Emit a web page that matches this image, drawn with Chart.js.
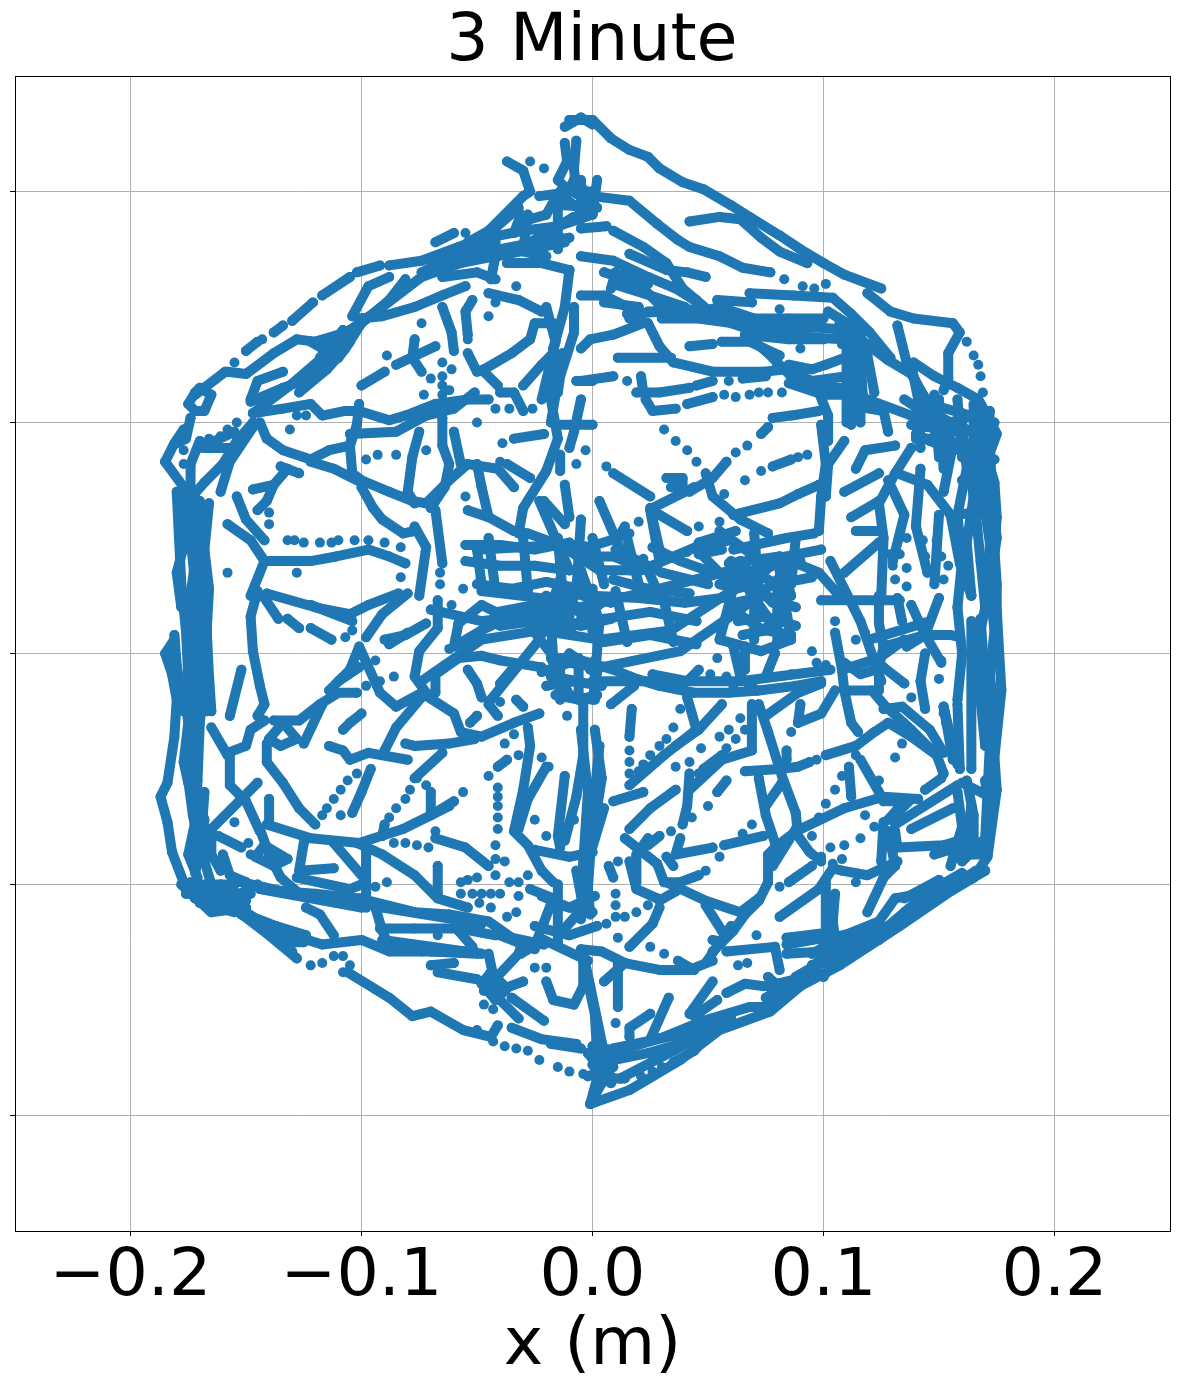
<!DOCTYPE html>
<html><head><meta charset="utf-8">
<style>html,body{margin:0;padding:0;background:#fff}#w{width:1179px;height:1388px}</style>
<script src="https://cdn.jsdelivr.net/npm/chart.js@4"></script></head>
<body><div id="w"><canvas id="c" width="1179" height="1388"></canvas></div>
<script>
// All positions are metres x 1000 (mm).
const xTickValues=[-0.2,-0.1,0,0.1,0.2];
const yTickValues=[-0.2,-0.1,0,0.1,0.2];
const xTickLabels=['\u22120.2','\u22120.1','0.0','0.1','0.2'];
const topRightTracks=[
[[-10,231],[0,231],[8,223],[16,218],[24,215],[29,210],[39,204],[48,201],[60,194],[68,189],[81,181],[90,175],[100,169],[109,164],[125,158]],
[[0,198],[16,196],[28,186],[37,179],[42,176],[55,172],[65,167],[77,165]],
[[42,187],[55,189],[64,188],[73,180],[81,174],[93,169]],
[[9,183],[22,176],[32,169],[39,158],[45,153],[52,147]],
[[-5,184],[6,185]],
[[15,147],[31,148],[44,149],[57,147],[71,141],[89,141],[99,141],[110,140],[116,136],[128,127],[138,121],[145,109],[148,99]],
[[30,145],[46,145],[60,143],[75,138],[92,137],[108,136],[118,130]],
[[68,156],[87,155],[104,154],[112,147],[120,139],[129,128]],
[[119,156],[129,148],[139,145],[156,143],[159,139],[154,130],[154,119],[152,114]],
[[139,126],[148,120],[158,115],[167,110],[172,101],[175,95],[171,84],[174,74],[175,59],[174,45],[175,30],[175,19],[177,-16],[174,-45],[175,-59],[171,-88],[165,-97]],
[[-5,155],[5,155],[15,150],[16,145],[24,143],[29,133],[35,126],[52,122],[74,122],[84,123]],
[[24,148],[38,149]],[[-5,132],[-1,136],[9,138],[22,143]],[[8,158],[10,165]],
[[-5,172],[9,170],[24,163],[36,158],[44,153]],[[14,165],[24,160]],[[16,173],[32,166],[41,165],[49,163]],
[[11,128],[34,128]],[[-5,118],[9,120]],[[19,113],[29,113],[42,115]],[[21,120],[22,113]],[[23,110],[26,105],[36,106]],
[[45,116],[52,118]],[[41,108],[52,111]],[[65,119],[75,120]],[[42,133],[52,134]],[[56,135],[68,135],[81,129]],[[54,153],[69,152]],
[[68,141],[66,136]],[[69,136],[76,130],[86,120],[95,116],[106,115],[116,115]],[[85,125],[95,123],[101,125],[109,128]],
[[98,113],[102,103],[102,92]],[[112,136],[114,118],[112,99]],[[116,128],[117,112]],[[119,129],[122,113]],
[[78,102],[86,103],[98,105]],[[76,98],[73,95]],[[58,83],[52,76],[42,70]],[[49,78],[52,68],[64,58],[76,52]],
[[78,81],[86,84]],[[32,76],[39,76],[39,72],[34,72]],[[9,78],[25,68]],[[26,63],[44,72]],[[25,63],[29,45]],[[29,60],[41,53]],
[[61,60],[81,65],[89,69],[98,73]],[[99,99],[101,82],[99,68],[98,53]],[[138,125],[141,110],[142,89]],[[132,142],[136,126]],
[[111,113],[138,103]],[[114,107],[126,105],[128,96]],[[109,92],[102,82],[101,68]],[[131,90],[118,88],[114,80]],
[[138,89],[131,78],[124,65],[126,50],[125,25]],[[132,78],[145,73],[155,60],[159,39],[164,25]],[[109,70],[124,78]],[[112,59],[124,66]],[[114,53],[125,53]],
[[145,102],[152,96],[164,82],[166,53]],[[143,99],[150,105],[148,93],[140,93],[143,99]],[[138,99],[159,96],[172,98]],
[[166,89],[169,68],[172,48],[171,25]],[[162,89],[165,68],[162,48],[164,25]],
[[-5,45],[11,50],[14,55]],[[-5,42],[9,42],[24,36],[29,25]],[[46,48],[62,53]],[[46,43],[56,45]],[[61,45],[84,50],[96,52]],[[81,42],[86,25]],
[[59,39],[81,42],[98,35],[106,26]],[[109,35],[124,48]],[[52,35],[64,33],[75,36]],[[60,38],[70,30],[62,28],[55,30]],[[26,46],[38,40],[52,35]],[[9,32],[24,28],[42,26]]
];
const topLeftTracks=[
[[-147,104],[-131,116],[-117,128],[-105,140],[-91,150],[-74,163],[-57,169],[-42,172],[-27,178],[-8,189]],
[[-175,66],[-168,74],[-160,82],[-154,92],[-147,100]],
[[-158,122],[-150,121],[-138,130],[-128,136],[-120,135],[-110,138]],
[[-148,109],[-134,115],[-120,120],[-115,130],[-105,139]],
[[-148,110],[-145,118],[-134,122]],
[[-127,113],[-115,123],[-107,132],[-100,143],[-88,153],[-81,162]],
[[-104,146],[-97,159],[-88,163]],[[-101,145],[-91,146],[-77,150],[-65,155],[-55,159]],[[-68,178],[-60,182]],
[[-37,213],[-30,209],[-27,200],[-30,198],[-45,183],[-54,178]],[[-12,228],[-5,232],[0,229]],
[[-12,221],[-11,213],[-15,205],[-10,200]],[[-7,222],[-8,210],[-7,199]],[[-8,205],[-2,199],[-5,192],[-12,197],[-8,205]],
[[-23,198],[-15,199],[-20,190],[-27,188]],[[-34,182],[-31,190]],[[-41,172],[-27,175],[-12,178]],[[-37,169],[-22,169],[-10,166]],
[[-10,166],[-12,150],[-17,132],[-18,110],[-15,93],[-20,79],[-30,63],[-32,52]],[[-8,150],[-8,139],[-14,120],[-15,113]],[[-5,110],[-8,96],[-10,89]],
[[-7,118],[0,118]],[[-15,99],[0,99]],
[[-144,100],[-141,93],[-134,88],[-122,84],[-114,88],[-105,90],[-102,99],[-101,108]],
[[-147,104],[-134,106],[-122,108],[-117,103],[-107,105],[-101,105],[-88,101],[-81,103],[-68,108],[-54,110],[-45,110]],
[[-105,95],[-85,96],[-72,103],[-60,106],[-51,113]],
[[-104,95],[-105,90],[-104,78],[-100,75],[-88,70],[-78,66],[-72,65],[-62,75],[-54,82],[-41,80],[-34,72]],
[[-122,83],[-112,80],[-102,75]],[[-75,96],[-78,85],[-80,70],[-77,65]],[[-65,102],[-65,90],[-62,82],[-64,72],[-70,63]],[[-60,96],[-57,82]],
[[-50,82],[-48,72],[-45,59]],[[-54,62],[-45,59],[-34,53],[-28,52],[-17,48],[0,46]],[[-100,72],[-95,63],[-91,58],[-82,52],[-77,53]],[[-68,62],[-65,39]],
[[-77,55],[-72,46],[-75,25]],[[-142,40],[-122,40],[-111,42],[-97,45],[-88,42],[-81,39]],[[-158,56],[-148,49],[-142,40],[-148,25]],[[-154,68],[-150,58],[-142,49]],
[[-145,62],[-141,66],[-138,73],[-132,80]],[[-147,71],[-138,73]],[[-135,81],[-127,78]],[[-100,116],[-90,122]],[[-85,125],[-68,133]],[[-78,128],[-74,122]],[[-77,136],[-78,128]],
[[-54,138],[-55,148],[-52,153]],[[-65,150],[-61,139],[-60,131]],[[-54,130],[-50,122],[-47,123],[-35,130],[-27,136],[-25,143],[-17,143]],[[-47,122],[-41,116]],
[[-45,156],[-32,153],[-22,148]],[[-40,113],[-34,113],[-30,105]],[[-30,116],[-22,125],[-18,129]],[[-34,93],[-21,95]],[[-37,82],[-27,76]],[[-14,86],[-14,79]],[[-12,73],[-10,59]],[[-21,66],[-12,56]],
[[-185,83],[-181,91],[-177,97]],[[-185,83],[-177,72],[-175,66]],[[-172,113],[-175,108],[-172,105],[-168,105],[-165,112],[-170,115],[-172,113]],[[-174,102],[-176,93],[-180,91]],
[[-172,112],[-159,122]],[[-150,131],[-145,135]],[[-138,139],[-134,142]],[[-130,144],[-121,152]],[[-117,155],[-105,163]],[[-102,165],[-92,168]],[[-88,168],[-74,170],[-58,176],[-47,180],[-32,193]],
[[-170,92],[-174,82],[-174,70]],[[-170,89],[-155,96]],[[-161,70],[-157,83],[-147,98]],[[-168,89],[-154,89]]
];
const leftBundleTracks=[
[[-180,70],[-179,50],[-178,30],[-176,10],[-175,-10],[-174,-30],[-172,-60],[-172,-80]],
[[-172,70],[-174,50],[-172,30],[-170,10],[-168,-10],[-170,-30],[-171,-55],[-172,-75],[-172,-92]],
[[-166,65],[-168,45],[-166,28],[-167,10],[-166,-10],[-165,-25]],
[[-176,66],[-170,40],[-176,20],[-171,0],[-177,-25]],
[[-181,6],[-185,0],[-182,-9],[-180,-20],[-181,-36],[-184,-56],[-187,-62],[-184,-73],[-182,-86],[-177,-99],[-172,-106]],
[[-177,-14],[-175,-30],[-177,-47],[-175,-56]],[[-174,-59],[-172,-73],[-175,-87],[-171,-97]],
[[-174,-99],[-160,-103],[-152,-104]],[[-172,-106],[-160,-109],[-148,-104]],[[-174,-103],[-161,-100]],
[[-168,-60],[-169,-75],[-168,-90],[-165,-100]],
[[-178,68],[-176,50],[-180,35],[-178,20]],[[-170,66],[-169,50],[-168,35],[-170,20],[-168,5],[-169,-10]],[[-174,60],[-172,40],[-174,25],[-174,5],[-172,-15],[-173,-30]],
[[-167,30],[-167,0],[-167,-25]],[[-175,-55],[-173,-70],[-170,-85],[-172,-95]],[[-172,-60],[-168,-72],[-171,-90]],[[-181,8],[-180,-5],[-178,-18]],
[[-176,-104],[-165,-105],[-150,-107]],[[-170,-100],[-155,-100]],[[-160,-108],[-145,-100]],
[[-178,-100],[-165,-112],[-150,-110]],[[-170,-108],[-155,-112]],[[-153,-112],[-140,-122],[-128,-132]]
];
const lowerLeftTracks=[
[[-172,-106],[-150,-113],[-134,-125]],
[[-152,-99],[-134,-103],[-120,-104],[-101,-106],[-77,-112],[-62,-113],[-45,-116],[-35,-123],[-21,-126]],
[[-150,-112],[-144,-116],[-130,-122],[-117,-126],[-100,-124],[-88,-129],[-74,-129],[-51,-129]],
[[-152,-113],[-142,-119],[-131,-127]],[[-137,-124],[-130,-129]],[[-124,-110],[-118,-113],[-112,-122]],
[[-128,-97],[-105,-102],[-100,-100]],[[-98,-86],[-98,-110]],[[-125,-82],[-127,-94],[-112,-93]],
[[-141,-74],[-122,-80],[-101,-82],[-82,-76],[-70,-70],[-60,-64]],[[-102,-82],[-91,-87],[-77,-96],[-67,-106],[-54,-110]],[[-112,-82],[-100,-96]],
[[-140,-63],[-140,-74]],[[-145,-56],[-152,-63],[-165,-76]],[[-157,-44],[-157,-57],[-150,-64],[-144,-77]],[[-165,-32],[-158,-44]],
[[-158,-43],[-150,-40],[-148,-33],[-142,-29]],[[-145,27],[-148,16],[-147,1],[-144,-14],[-142,-22],[-145,-27]],[[-152,-7],[-157,-27]],
[[-140,-37],[-134,-30],[-128,-37],[-135,-40],[-140,-37]],[[-138,-29],[-127,-29],[-118,-22],[-110,-17],[-102,-17]],[[-141,-39],[-141,-47],[-134,-56],[-127,-67],[-120,-74]],
[[-117,-22],[-125,-39]],[[-114,-16],[-105,-7],[-101,3],[-92,-17],[-85,-23],[-74,-17],[-60,-26],[-57,-34],[-48,-36],[-34,-30],[-23,-26]],[[-110,-12],[-101,-6]],
[[-98,7],[-91,17],[-80,26]],[[-142,24],[-136,15]],[[-132,15],[-127,11]],[[-122,11],[-113,6]],[[-141,26],[-120,20],[-105,17],[-97,21],[-84,26]],[[-122,21],[-104,14]],
[[-90,6],[-81,8],[-72,13]],[[-88,4],[-80,9]],[[-67,23],[-67,11],[-75,1],[-77,-10],[-72,-17]],[[-68,-17],[-68,-9],[-58,-2],[-48,-1],[-40,-3],[-22,-6]],
[[-54,-7],[-50,-13],[-48,-19]],[[-45,-22],[-41,-27]],[[-33,-20],[-30,-23]],[[-50,-27],[-53,-30]],[[-58,13],[-48,21],[-40,17]],[[-58,13],[-60,3],[-48,10],[-40,14]],[[-40,-13],[-34,-6]],
[[-114,-40],[-108,-42],[-105,-46],[-97,-43],[-80,-46]],[[-108,-33],[-105,-30],[-100,-26]],[[-90,-42],[-85,-32],[-74,-19]],[[-81,-39],[-77,-40],[-62,-39],[-51,-37]],[[-65,-43],[-77,-54]],
[[-90,-74],[-91,-79]],[[-96,-50],[-100,-60],[-104,-69]],[[-70,-60],[-70,-70],[-62,-66]],[[-68,-80],[-55,-84],[-45,-92]],[[-41,-49],[-37,-46]],[[-67,-92],[-67,-104]],
[[-28,-32],[-27,-40],[-30,-59],[-34,-77],[-28,-83],[-22,-94],[-17,-99]],[[-20,-49],[-28,-63],[-32,-76]],[[-12,-53],[-15,-79],[-14,-84]],[[-18,13],[-17,-2]],[[-28,13],[-18,0]],
[[-4,-22],[-4,-44],[-7,-62],[-12,-81]],[[-94,-110],[-91,-120],[-88,-127]],[[-92,-119],[-77,-119],[-58,-119],[-42,-122]],[[-58,-120],[-52,-127]],[[-70,-129],[-50,-130]],[[-67,-138],[-50,-141]],
[[-70,-135],[-60,-134]],[[-47,-146],[-32,-130],[-31,-127]],[[-48,-143],[-42,-150],[-37,-145],[-44,-138],[-48,-143]],[[-45,-130],[-42,-144]],[[-41,-146],[-30,-142]],[[-35,-149],[-21,-159]],[[-40,-150],[-32,-158]],
[[-35,-162],[-22,-167],[-7,-169]],[[-20,-142],[-17,-150],[-8,-152],[-4,-144],[-4,-133]],[[-31,-130],[-21,-124],[-2,-133]],[[-4,-133],[1,-156],[2,-173]],[[-27,-102],[-17,-106],[-24,-124]],
[[-7,-94],[-4,-110],[-12,-119]],[[-14,-109],[0,-112]],[[-162,-79],[-152,-84]],[[-142,-83],[-132,-89],[-138,-92],[-146,-88],[-142,-83]],[[-160,-87],[-157,-96],[-150,-99]],
[[-144,-76],[-140,-87],[-135,-97],[-128,-103]],[[-165,-76],[-165,-87],[-161,-94]],
[[-172,-106],[-160,-109],[-137,-118],[-124,-122]],[[-134,-125],[-125,-125]],[[-106,-138],[-88,-149],[-78,-157],[-70,-155],[-56,-163],[-44,-166],[-41,-161]],[[-18,-169],[-5,-171]],[[-2,-173],[2,-178]],
[[-144,-102],[-100,-110]],[[-91,-110],[-48,-117]],[[-91,-124],[-48,-130]],[[-40,-122],[-25,-128]],[[-25,-85],[-10,-88],[0,-86]],[[-22,-105],[-10,-110],[1,-105]],[[-25,-118],[-10,-122],[2,-118]],[[-15,-100],[-15,-125]],
[[-5,-33],[-2,-60],[-4,-90],[-5,-115]],[[3,-40],[0,-70],[-3,-95]]
];
const lowerRightTracks=[
[[-1,-195],[5,-173],[-1,-144],[-4,-130]],[[8,-173],[31,-166],[48,-159],[68,-153],[75,-153]],[[9,-176],[24,-173],[38,-169],[52,-160]],[[2,-184],[14,-184]],
[[35,-177],[44,-172],[52,-163],[56,-161]],[[-1,-195],[4,-186],[6,-180]],[[1,-176],[9,-184]],[[-2,-183],[9,-179]],[[-1,-173],[8,-176]],[[16,-166],[16,-162],[25,-156]],[[25,-167],[33,-149]],[[11,-153],[11,-134]],
[[5,-142],[14,-134],[29,-137],[42,-137],[52,-133]],[[-5,-128],[4,-129],[14,-134]],[[16,-127],[26,-117],[29,-110]],[[37,-133],[44,-137]],[[52,-142],[42,-156]],[[54,-150],[44,-157]],[[58,-147],[66,-143],[74,-144]],
[[52,-129],[61,-120],[66,-113],[72,-107],[76,-99]],[[52,-124],[56,-125],[60,-118],[49,-134]],[[58,-129],[79,-127],[81,-137]],[[84,-126],[101,-123],[105,-123]],[[84,-130],[100,-129]],[[98,-134],[101,-123],[101,-99]],
[[105,-123],[104,-116],[105,-104]],[[95,-135],[105,-130],[103,-135],[100,-140],[95,-135]],[[76,-144],[92,-140],[84,-147],[76,-140]],[[81,-114],[98,-102],[104,-93],[108,-94],[119,-96],[132,-90]],
[[119,-112],[126,-97],[131,-92]],[[76,-99],[76,-87],[79,-84],[88,-77],[109,-67],[126,-62],[141,-63]],[[72,-54],[75,-70],[79,-82]],[[66,-51],[81,-50],[89,-49],[94,-47]],
[[101,-44],[114,-40],[122,-34],[128,-30],[138,-36],[149,-44],[152,-52]],[[72,-22],[76,-34],[82,-53],[88,-69],[89,-79],[94,-86],[99,-90]],[[88,-76],[78,-92]],[[82,-56],[75,-66]],
[[75,-27],[89,-17],[99,-13]],[[109,-16],[112,-30],[115,-34]],[[109,-16],[121,-16],[126,-22],[138,-33],[148,-43]],[[126,-24],[134,-23],[146,-33],[152,-43]],[[105,-16],[99,-26],[89,-30]],[[90,-22],[89,-30]],[[84,-42],[84,-46]],
[[111,-49],[112,-62]],[[116,-46],[124,-60]],[[144,-59],[151,-54]],[[131,-70],[138,-63]],[[126,-64],[135,-64],[128,-72]],[[126,-73],[125,-90]],[[128,-77],[131,-92]],[[131,-77],[132,-84],[152,-83],[162,-80]],
[[138,-76],[156,-67]],[[131,-74],[158,-57]],[[148,-87],[164,-82]],[[160,-56],[172,-62]],[[156,-87],[169,-87]],[[164,-66],[161,-87]],
[[166,-94],[152,-103],[138,-113],[132,-117],[124,-124],[109,-129],[98,-134],[86,-143],[75,-153]],[[156,-99],[142,-104],[131,-106],[124,-116],[109,-122],[95,-130]],
[[170,-94],[155,-103],[133,-118],[107,-135],[90,-144],[77,-155],[55,-163],[38,-176],[16,-189],[-1,-195]],[[165,-97],[150,-105],[128,-118],[105,-130],[88,-140]],[[60,-158],[35,-172],[12,-184]],
[[158,-22],[159,-50]],[[164,14],[164,-50]],[[152,-23],[156,-46]],[[150,24],[144,8],[136,3]],[[138,21],[144,8],[151,-4]],[[144,8],[155,8],[159,7]],[[144,0],[142,-12],[144,-24]],
[[124,25],[124,13],[126,3],[124,-6],[124,-16]],[[132,24],[134,14]],[[126,3],[144,8]],[[105,9],[108,-7],[109,-16]],[[108,-7],[124,-2],[135,6]],[[109,-4],[116,-9],[126,-6],[135,-13]],
[[-5,-3],[9,-7],[19,-11],[29,-14],[44,-17],[59,-17],[72,-16],[88,-14],[99,-12]],[[26,-9],[41,-12],[46,-7]],[[41,-19],[45,-33],[31,-44],[16,-57]],[[56,-22],[46,-33],[36,-40]],[[69,-22],[69,-42],[56,-46],[42,-59]],
[[8,-22],[18,-14]],[[17,-24],[16,-36]],[[56,-44],[48,-50]],[[58,-55],[54,-60]],[[42,-52],[41,-66],[39,-74]],[[36,-59],[25,-67],[16,-76]],[[9,-64],[22,-60]],[[1,-33],[4,-54],[1,-73]],[[5,-67],[-1,-87],[-2,-102],[-1,-113]],
[[24,-80],[19,-87],[19,-99]],[[29,-79],[24,-83]],[[14,-80],[28,-91],[31,-99],[38,-99],[46,-96]],[[38,-80],[36,-87],[52,-84]],[[32,-88],[35,-92]],[[57,-83],[74,-79]],[[32,-99],[49,-107],[64,-112],[72,-106]],[[49,-109],[56,-120]],
[[29,-107],[36,-103]],[[7,-92],[9,-97]],[[16,-90],[19,-102],[28,-106]],[[66,3],[66,-7]],[[61,3],[64,-10],[71,-16]],[[79,0],[75,-10]],[[85,-99],[95,-92]],[[168,15],[172,-40],[170,-80],[160,-90]],
[[162,-55],[165,-70],[165,-85]],[[170,-55],[172,-70],[170,-88]],[[158,-60],[160,-75],[155,-92]],[[152,-23],[155,-36],[158,-48]],
[[160,-95],[146,-103],[135,-112],[128,-118]],[[150,-98],[135,-106]],[[124,-118],[112,-124],[100,-130]],[[100,-134],[107,-130]],[[75,-149],[95,-137]],[[79,-143],[92,-142]],[[104,-123],[121,-119]],[[84,-123],[101,-121]],
[[9,-171],[42,-164]],[[0,-178],[8,-186],[3,-180],[10,-172],[0,-170]]
];
const rightBundleTracks=[
[[160,100],[162,80],[158,60],[160,40],[158,20],[160,0],[158,-20]],[[168,100],[170,80],[166,60],[168,40],[170,20],[166,0],[168,-20],[170,-40]],[[172,90],[173,70],[175,50],[172,30],[174,10],[172,-10],[175,-30],[173,-50]],
[[150,105],[156,90],[152,70]],[[140,108],[155,100],[170,105]],[[140,95],[155,88],[170,90]],[[148,112],[150,85]],[[158,110],[160,85]],[[168,108],[166,85]],
[[146,108],[160,104],[174,100]],[[146,100],[160,98],[172,92]],[[146,92],[160,88],[174,84]],[[150,110],[152,80]],[[165,108],[165,80]],[[172,105],[170,78]],[[160,75],[172,72]],[[158,60],[172,62]],
[[128,75],[135,60],[130,40]],[[142,80],[140,55],[145,35]],[[150,60],[148,30]],
[[138,122],[146,105]],[[135,110],[150,100]],[[110,135],[110,100]],[[116,130],[116,100]],
[[38,146],[55,150],[70,145],[85,145],[100,145]],[[66,138],[85,136],[100,136]],[[102,148],[115,140],[118,132]],[[107,143],[116,142],[116,134],[108,134],[107,143]],[[80,125],[95,118],[110,120]],[[85,117],[100,112],[115,112]],
[[9,160],[25,155],[40,150]],[[5,165],[20,160],[30,150]],[[5,152],[20,150]]
];
const denseCoreTracks=[
[[-45,180],[-30,183],[-15,185],[0,190]],[[-40,175],[-25,178],[-10,180]],[[-50,172],[-35,175],[-20,172]],[[-30,175],[-28,190]],[[-15,175],[-15,195]],
[[-74,165],[-60,172],[-45,175]],[[-70,170],[-55,175],[-42,178]],[[-65,163],[-50,165],[-42,162]],[[-42,172],[-44,162]],
[[-14,200],[0,200]],[[-12,194],[2,193]],[[-5,205],[-5,188]],[[2,205],[0,190]],[[-122,135],[-110,128],[-105,135]],[[-118,128],[-108,140]],[[-20,150],[-16,135],[-22,110]],[[-13,130],[-18,100]],
[[-22,-8],[-10,-4],[2,-6]],[[-20,-14],[-8,-12],[4,-14]],[[-16,-18],[-6,-20],[2,-18]],[[-14,-2],[-14,-20]],[[-6,-2],[-6,-20]],[[1,-3],[1,-20]],
[[-16,22],[-5,26],[8,22]],[[-18,15],[-5,12],[8,15]],[[-10,28],[-10,10]],[[0,28],[0,10]],[[-41,18],[-25,21],[-10,20]],[[-40,12],[-25,14],[-10,10]],
[[62,22],[75,25],[88,20]],[[63,14],[75,16],[88,12]],[[65,8],[75,10],[86,8]],[[70,28],[70,6]],[[80,28],[80,5]],
[[0,25],[20,24],[40,22],[56,24]],[[5,15],[25,18],[45,14]],[[5,5],[25,8],[45,4]],[[10,27],[15,5]],[[30,27],[35,5]],
[[-55,47],[-40,47],[-25,45],[-10,48]],[[-55,40],[-40,38],[-25,38],[-10,36]],[[-50,30],[-35,28],[-20,31],[-5,28]],[[-45,50],[-42,27]],[[-30,50],[-28,27]],[[-15,50],[-13,27]],[[-50,45],[-48,30]],
[[10,45],[30,35],[50,30]],[[60,40],[80,30],[95,33]],[[70,52],[72,28]],[[88,50],[86,30]],[[45,45],[60,30]],[[15,50],[20,30]],[[0,50],[5,30]]
];
const centreTracks=[
[[-48,45],[-14,47],[3,36],[21,36],[47,47],[60,49]],[[-70,19],[-48,14],[-10,19],[25,27],[60,36]],[[-74,-12],[-48,6],[-23,10],[3,6],[34,10],[60,27],[81,40]],[[-48,27],[-14,23]],
[[-1,-7],[38,1],[64,19],[90,40]],[[0,-12],[25,-12],[64,-12],[103,-7]],[[64,40],[55,6],[73,1],[86,6],[81,36]],[[68,27],[77,14]],[[103,40],[116,14],[125,-12]],[[99,45],[73,40],[55,53]],[[99,23],[133,23]],[[120,6],[146,14]],
[[-5,36],[3,14],[1,-12]],[[-14,32],[-23,6],[-44,-20]],[[-5,58],[-7,27]],[[-23,66],[-10,36]],[[3,66],[16,36]],[[25,62],[29,40]],
[[-18,-2],[-10,-18],[0,-20],[2,-8],[-10,0],[-18,-10],[-6,-12]],[[-20,25],[-8,12],[4,22],[-12,28],[-6,18]],[[70,30],[78,22],[84,28]],[[62,18],[74,10],[82,18]]
];
const isolatedDots=[[162,135],[165,129],[167,125],[168,120],[169,113],[83,162],[91,159],[96,158],[101,160],[-154,100],[-158,97],[-161,94],[-166,93],[-131,97],[-128,103],[-124,103],[-98,84],[-93,86],[-85,86],[-72,88],[-55,68],[-40,83],[-7,82],[-3,88],[-39,91],[-50,100],[-26,106],[-36,106],[-42,106],[-73,112],[-70,119],[-89,129],[-74,143],[-54,136],[-45,146],[-42,152],[-33,159],[-55,182],[-27,213],[-21,210],[-132,49],[-129,49],[-125,48],[-118,48],[-113,48],[-110,49],[-103,49],[-97,49],[-90,48],[-83,46],[-140,56],[-140,61],[-158,35],[-128,35],[-83,33],[-66,35],[-66,30],[-56,28],[-65,126],[-61,123],[-65,120],[-65,116],[-65,112],[-62,114],[-155,126],[-143,136],[-177,88],[-177,82],[-107,7],[-104,10],[-61,21],[-62,2],[-94,-3],[-86,-10],[-92,-12],[-98,-14],[-40,-21],[-76,-54],[-79,-59],[-81,-63],[-85,-67],[-88,-71],[-102,-52],[-106,-55],[-109,-59],[-112,-63],[-115,-67],[-117,-70],[-109,-70],[-56,-60],[-72,-57],[-68,-77],[-81,-82],[-76,-83],[-71,-84],[-86,-82],[-45,-53],[-41,-58],[-41,-62],[-41,-66],[-41,-71],[-41,-76],[-42,-83],[-42,-89],[-38,-90],[-42,-96],[-38,-39],[-32,-44],[-34,-35],[-89,-99],[-94,-101],[-8,-72],[-25,-72],[-20,-79],[-22,-45],[-19,-49],[-11,-27],[-8,8],[-44,-110],[-33,-112],[-37,-114],[-40,-104],[-32,-105],[-48,-104],[-52,-104],[-44,-104],[-49,-108],[-57,-104],[-36,-99],[-32,-99],[-28,-96],[-50,-97],[-54,-98],[-57,-99],[-108,-131],[-105,-135],[-148,-87],[-155,-73],[-149,-82],[-67,-122],[-47,-152],[-43,-154],[-25,-136],[-20,-136],[-122,-135],[-112,-131],[-117,-134],[-108,-138],[21,-183],[26,-181],[30,-179],[10,-160],[25,-127],[31,-130],[63,-135],[67,-134],[71,-122],[114,-99],[97,-46],[86,-34],[108,-53],[105,-59],[101,-65],[98,-71],[124,-55],[131,-45],[134,-39],[114,-44],[151,-3],[150,-11],[138,-19],[152,-26],[153,-30],[155,-34],[136,3],[105,14],[114,6],[118,9],[54,-2],[51,-9],[58,-10],[61,-14],[16,-42],[16,-47],[16,-52],[38,-24],[35,-32],[32,-37],[29,-40],[25,-44],[22,-48],[20,-51],[64,-28],[59,-33],[55,-36],[66,-33],[62,-37],[58,-41],[47,-41],[42,-47],[36,-49],[46,-52],[50,-66],[43,-71],[34,-77],[49,-94],[65,-78],[69,-74],[55,-88],[24,-109],[19,-112],[10,-104],[10,-109],[10,-114],[14,-114],[11,-123],[6,-117],[11,-90],[95,1],[97,-4],[101,-5],[86,-9],[118,-70],[122,-75],[116,-80],[109,-83],[108,-89],[103,-84],[104,-91],[99,-88],[95,-79],[81,-101],[15,118],[57,112],[62,111],[68,112],[72,113],[76,113],[82,113],[59,118],[90,132],[81,149],[67,90],[62,87],[31,97],[36,92],[41,88],[45,83],[89,85],[93,86],[73,79],[66,75],[57,69],[6,81],[136,50],[143,49],[149,49],[144,42],[151,42],[154,38],[152,32],[129,43],[133,43],[130,38],[131,32],[136,37],[136,29],[16,52],[20,57],[55,57],[46,55],[41,44],[22,41],[-50,-163],[-43,-168],[-38,-170],[-33,-171],[-28,-172],[-23,-176],[-15,-179],[-10,-181],[-4,-182]];

const POINT_COLOR='#1f77b4';
const toMetres=t=>t.map(([x,y])=>({x:x/1000,y:y/1000}));
const allTracks=[...topRightTracks,...topLeftTracks,...leftBundleTracks,...lowerLeftTracks,...lowerRightTracks,...rightBundleTracks,...denseCoreTracks,...centreTracks];
const datasets=allTracks.map(t=>({data:toMetres(t),showLine:true,borderColor:POINT_COLOR,borderWidth:10,backgroundColor:POINT_COLOR,pointRadius:5,pointBorderWidth:0,tension:0,borderJoinStyle:'round',borderCapStyle:'round'}));
datasets.push({data:toMetres(isolatedDots),showLine:false,backgroundColor:POINT_COLOR,pointRadius:5,pointBorderWidth:0});

const frame={id:'frame',afterDraw(c){const a=c.chartArea,g=c.ctx;g.save();g.strokeStyle='#000';g.lineWidth=1;g.strokeRect(Math.round(a.left)+.5,Math.round(a.top)+.5,a.right-a.left,a.bottom-a.top);g.restore();}};
const FONT='"DejaVu Sans"';
new Chart(document.getElementById('c'),{type:'scatter',data:{datasets},plugins:[frame],options:{
 responsive:false,animation:false,events:[],
 layout:{padding:{left:14,right:9,top:0,bottom:0}},
 plugins:{legend:{display:false},tooltip:{enabled:false},
  title:{display:true,text:'3 Minute',color:'#000',font:{family:FONT,size:66.67,weight:'normal',lineHeight:1},padding:{top:9.33,bottom:0}}},
 scales:{
  x:{type:'linear',min:-0.25,max:0.25,
   afterBuildTicks:s=>{s.ticks=xTickValues.map(v=>({value:v}));},
   afterFit:s=>{s.height=157;},
   grid:{color:'#b0b0b0',lineWidth:1,tickColor:'#000',tickLength:5},
   border:{display:false},
   ticks:{autoSkip:false,maxRotation:0,color:'#000',padding:2,font:{family:FONT,size:66.67},callback:(v,i)=>xTickLabels[i]},
   title:{display:true,text:'x (m)',color:'#000',font:{family:FONT,size:66.67},padding:{top:0,bottom:1}}},
  y:{type:'linear',min:-0.25,max:0.25,
   afterBuildTicks:s=>{s.ticks=yTickValues.map(v=>({value:v}));},
   afterFit:s=>{s.width=1;},
   grid:{color:'#b0b0b0',lineWidth:1,tickColor:'#000',tickLength:5},
   border:{display:false},
   ticks:{autoSkip:false,padding:0,font:{size:1},callback:()=>''}}
 }}});
</script></body></html>
